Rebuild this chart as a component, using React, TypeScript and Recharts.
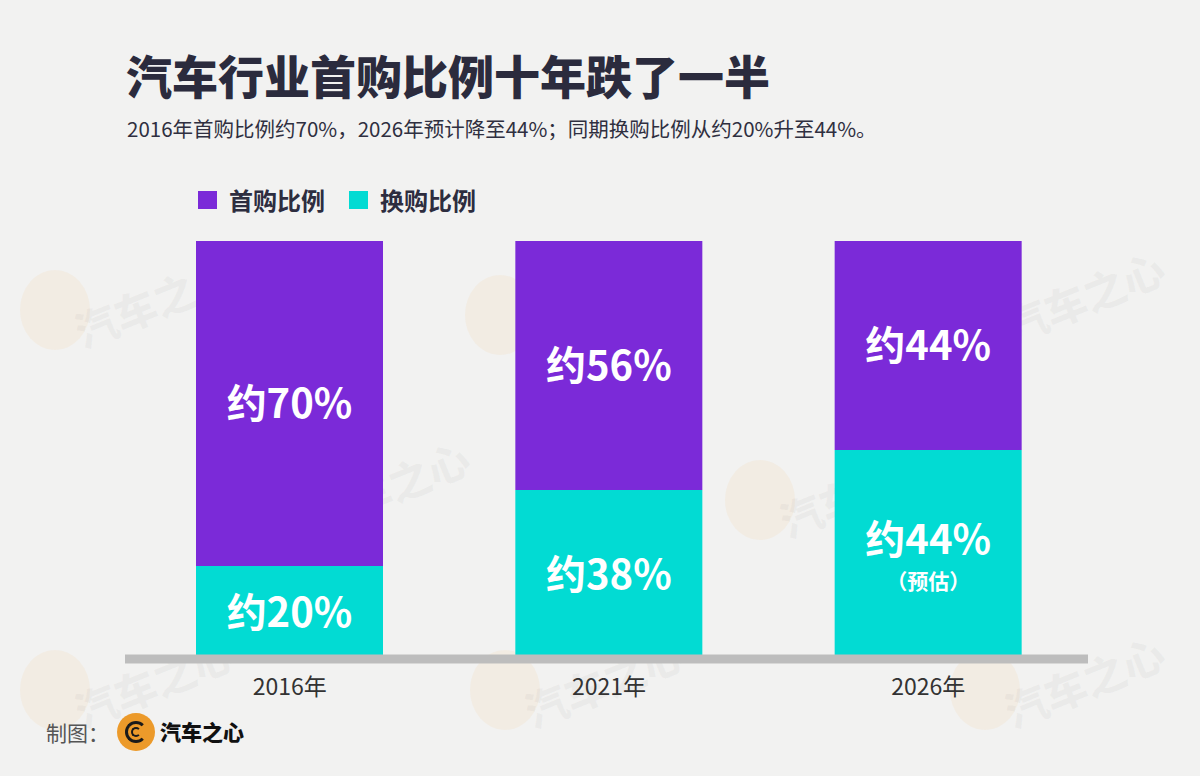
import { BarChart, Bar, XAxis, YAxis, Legend, LabelList, ReferenceLine } from "recharts";

const years = ["2016年", "2021年", "2026年"];
const firstShare = [70, 56, 44];
const replaceShare = [20, 38, 44];
const replaceNote = ["", "", "（预估）"];

const data = years.map((year, i) => ({
  year,
  first: firstShare[i],
  replace: replaceShare[i],
  note: replaceNote[i],
}));

const PURPLE = "#7b2ad8";
const CYAN = "#02dbd3";
const FONT = '"Noto Sans CJK SC", "Noto Sans", sans-serif';

// faint brand watermarks on the paper background
const marks = [
  [55, 310], [500, 315], [985, 305],
  [290, 495], [760, 500],
  [55, 690], [505, 690], [985, 690],
];

const renderLegend = () => (
  <div style={{ display: "flex", alignItems: "center", fontFamily: FONT }}>
    {[
      { name: "首购比例", color: PURPLE },
      { name: "换购比例", color: CYAN },
    ].map((item) => (
      <div key={item.name} style={{ display: "flex", alignItems: "center", marginRight: 24 }}>
        <span style={{ width: 19, height: 18, background: item.color, display: "inline-block", marginRight: 12 }} />
        <span style={{ fontSize: 24, fontWeight: 700, color: "#2d2d3f", lineHeight: "30px" }}>{item.name}</span>
      </div>
    ))}
  </div>
);

const makeLabel = (withNote: boolean) => (props: any) => {
  const { x, y, width, height, value, index } = props;
  const cx = x + width / 2;
  const cy = y + height / 2 - 3;
  const note = withNote ? data[index].note : "";
  return (
    <g>
      <text
        x={cx}
        y={note ? cy - 15 : cy}
        textAnchor="middle"
        dominantBaseline="central"
        fill="#fff"
        fontSize={40}
        fontWeight={700}
        fontFamily={FONT}
      >
        {`约${value}%`}
      </text>
      {note && (
        <text
          x={cx}
          y={cy + 28}
          textAnchor="middle"
          dominantBaseline="central"
          fill="#fff"
          fontSize={21}
          fontWeight={700}
          fontFamily={FONT}
        >
          {note}
        </text>
      )}
    </g>
  );
};

const YearTick = (props: any) => {
  const { x, y, payload } = props;
  return (
    <text x={x} y={y + 36} textAnchor="middle" fill="#333" fontSize={23} fontFamily={FONT}>
      {payload.value}
    </text>
  );
};

const App = () => {
  return (
    <div
      style={{
        position: "absolute",
        left: 0,
        top: 0,
        width: 1200,
        height: 776,
        background: "#f2f2f1",
        overflow: "hidden",
        fontFamily: FONT,
      }}
    >
      {marks.map(([mx, my], i) => (
        <div key={i} style={{ position: "absolute", left: mx - 35, top: my - 40 }}>
          <div
            style={{
              position: "absolute",
              width: 70,
              height: 80,
              borderRadius: "50%",
              background: "rgba(245, 190, 110, 0.1)",
            }}
          />
          <div
            style={{
              position: "absolute",
              left: 50,
              top: 0,
              fontSize: 42,
              fontWeight: 900,
              color: "rgba(120,120,120,0.06)",
              transform: "rotate(-22deg)",
              whiteSpace: "nowrap",
            }}
          >
            汽车之心
          </div>
        </div>
      ))}

      <div
        style={{
          position: "absolute",
          left: 126,
          top: 44,
          fontSize: 46,
          fontWeight: 900,
          color: "#2b2b3d",
          lineHeight: "60px",
          whiteSpace: "nowrap",
        }}
      >
        汽车行业首购比例十年跌了一半
      </div>
      <div
        style={{
          position: "absolute",
          left: 127,
          top: 114,
          fontSize: 20.5,
          color: "#2f2f40",
          lineHeight: "28px",
          whiteSpace: "nowrap",
        }}
      >
        2016年首购比例约70%，2026年预计降至44%；同期换购比例从约20%升至44%。
      </div>

      <div style={{ position: "absolute", left: 0, top: 0 }}>
        <BarChart
          width={1200}
          height={776}
          data={data}
          stackOffset="expand"
          barSize={187}
          margin={{ top: 241, right: 112, left: 125, bottom: 57 }}
        >
          <XAxis
            dataKey="year"
            height={60}
            axisLine={false}
            tickLine={false}
            tickSize={0}
            tickMargin={0}
            padding={{ left: 5, right: 0 }}
            tick={<YearTick />}
            interval={0}
          />
          <YAxis hide domain={[0, 1]} />
          <Legend
            layout="horizontal"
            verticalAlign="middle"
            align="center"
            content={renderLegend}
            wrapperStyle={{ top: 185, left: 198, width: "auto" }}
          />
          <Bar dataKey="replace" stackId="a" fill={CYAN} isAnimationActive={false}>
            <LabelList dataKey="replace" content={makeLabel(true)} />
          </Bar>
          <Bar dataKey="first" stackId="a" fill={PURPLE} isAnimationActive={false}>
            <LabelList dataKey="first" content={makeLabel(false)} />
          </Bar>
          <ReferenceLine y={0} stroke="#bdbdbd" strokeWidth={9} />
        </BarChart>
      </div>

      <div
        style={{
          position: "absolute",
          left: 46,
          top: 718,
          fontSize: 21,
          color: "#555",
          lineHeight: "28px",
          whiteSpace: "nowrap",
        }}
      >
        制图：
      </div>
      <div
        style={{
          position: "absolute",
          left: 117,
          top: 713,
          width: 38,
          height: 38,
          borderRadius: "50%",
          background: "#ec9a2a",
        }}
      >
        <div
          style={{
            position: "absolute",
            left: 8,
            top: 8,
            width: 16,
            height: 16,
            borderRadius: "50%",
            border: "3px solid #1a1a1a",
            borderRightColor: "transparent",
          }}
        />
        <div
          style={{
            position: "absolute",
            left: 14,
            top: 14,
            width: 6,
            height: 6,
            borderRadius: "50%",
            border: "2px solid #1a1a1a",
            borderRightColor: "transparent",
          }}
        />
      </div>
      <div
        style={{
          position: "absolute",
          left: 160,
          top: 717,
          fontSize: 21,
          fontWeight: 900,
          color: "#111",
          lineHeight: "28px",
          whiteSpace: "nowrap",
        }}
      >
        汽车之心
      </div>
    </div>
  );
};

export default App;
